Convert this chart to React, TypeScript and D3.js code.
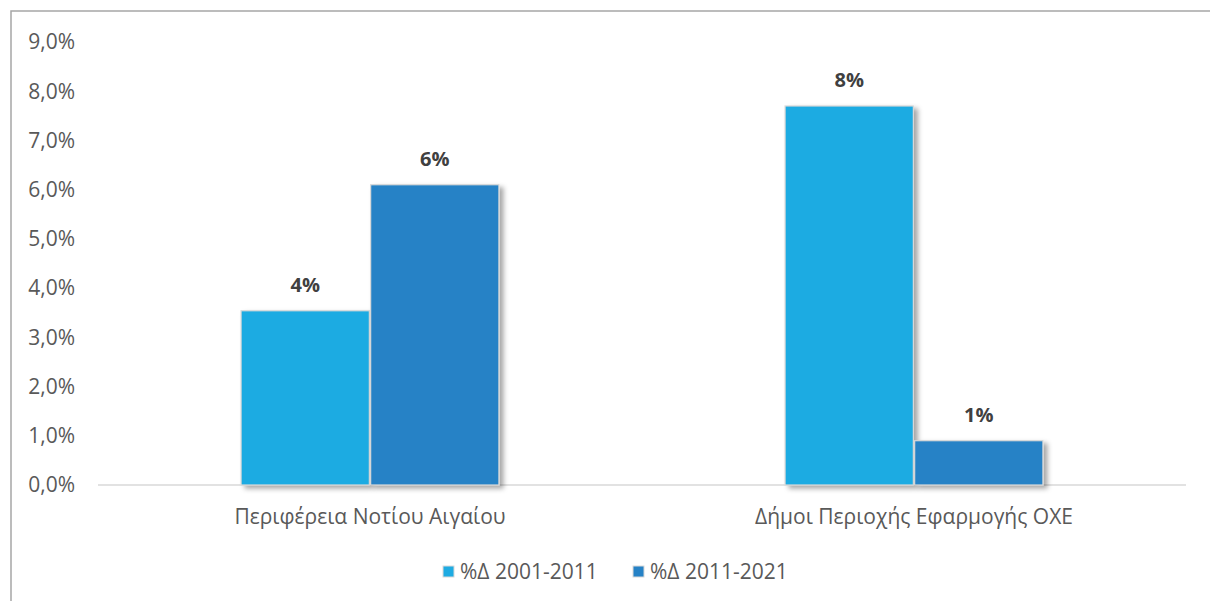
import * as d3 from "d3";

const categories = ["Περιφέρεια Νοτίου Αιγαίου", "Δήμοι Περιοχής Εφαρμογής ΟΧΕ"];
const seriesNames = ["%Δ 2001-2011", "%Δ 2011-2021"];
const series2001 = [3.54, 7.7];
const series2011 = [6.1, 0.9];
const yTicks = [0, 1, 2, 3, 4, 5, 6, 7, 8, 9];

const COLORS = ["#1eabe2", "#2682c6"];
const W = 1210;
const H = 601;
const M = { left: 98, right: 24, top: 42, bottom: 116 };
const FONT = "'Open Sans', sans-serif";

export default function App() {
  const values = [series2001, series2011];
  const x0 = d3
    .scaleBand<string>()
    .domain(categories)
    .range([M.left, W - M.right])
    .paddingInner(0.526)
    .paddingOuter(0.263);
  const x1 = d3
    .scaleBand<string>()
    .domain(seriesNames)
    .range([0, x0.bandwidth()])
    .paddingInner(0.01);
  const y = d3.scaleLinear().domain([0, 9]).range([H - M.bottom, M.top]);
  const baseY = y(0);

  return (
    <div style={{ position: "absolute", left: 0, top: 0, width: W, height: H, overflow: "hidden", background: "#fff" }}>
      <svg width={W} height={H} style={{ display: "block" }}>
        <defs>
          <filter id="shadow" x="-20%" y="-20%" width="150%" height="150%">
            <feDropShadow dx="4" dy="3" stdDeviation="2.5" floodColor="#000" floodOpacity="0.35" />
          </filter>
        </defs>
        <path d={`M11,${H} L11,11 L${W},11`} fill="none" stroke="#a6a6a6" strokeWidth={1.5} />
        {yTicks.map((t) => (
          <text
            key={t}
            x={75}
            y={y(t)}
            dy="0.35em"
            textAnchor="end"
            fontFamily={FONT}
            fontSize={21}
            fill="#595959"
          >
            {d3.format(".1f")(t).replace(".", ",") + "%"}
          </text>
        ))}
        <line x1={M.left} x2={W - M.right} y1={baseY} y2={baseY} stroke="#d9d9d9" strokeWidth={1.5} />
        {categories.map((c, ci) => (
          <g key={c}>
            {seriesNames.map((s, si) => {
              const v = values[si][ci];
              const bx = (x0(c) ?? 0) + (x1(s) ?? 0);
              const bw = x1.bandwidth();
              return (
                <g key={s}>
                  <rect
                    x={bx}
                    y={y(v)}
                    width={bw}
                    height={baseY - y(v)}
                    fill={COLORS[si]}
                    stroke="#d9d9d9"
                    strokeWidth={1.2}
                    filter="url(#shadow)"
                  />
                  <text
                    x={bx + bw / 2}
                    y={y(v) - 26}
                    dy="0.35em"
                    textAnchor="middle"
                    fontFamily={FONT}
                    fontSize={20}
                    fontWeight="bold"
                    fill="#404040"
                  >
                    {Math.round(v) + "%"}
                  </text>
                </g>
              );
            })}
            <text
              x={(x0(c) ?? 0) + x0.bandwidth() / 2}
              y={baseY + 32}
              dy="0.35em"
              textAnchor="middle"
              fontFamily={FONT}
              fontSize={21}
              fill="#595959"
            >
              {c}
            </text>
          </g>
        ))}
        {seriesNames.map((s, i) => {
          const lx = 443 + i * 190;
          return (
            <g key={s}>
              <rect x={lx} y={566} width={11} height={11} fill={COLORS[i]} stroke="#d9d9d9" strokeWidth={1} />
              <text x={lx + 17} y={572} dy="0.35em" fontFamily={FONT} fontSize={21} fill="#595959">
                {s}
              </text>
            </g>
          );
        })}
      </svg>
    </div>
  );
}
